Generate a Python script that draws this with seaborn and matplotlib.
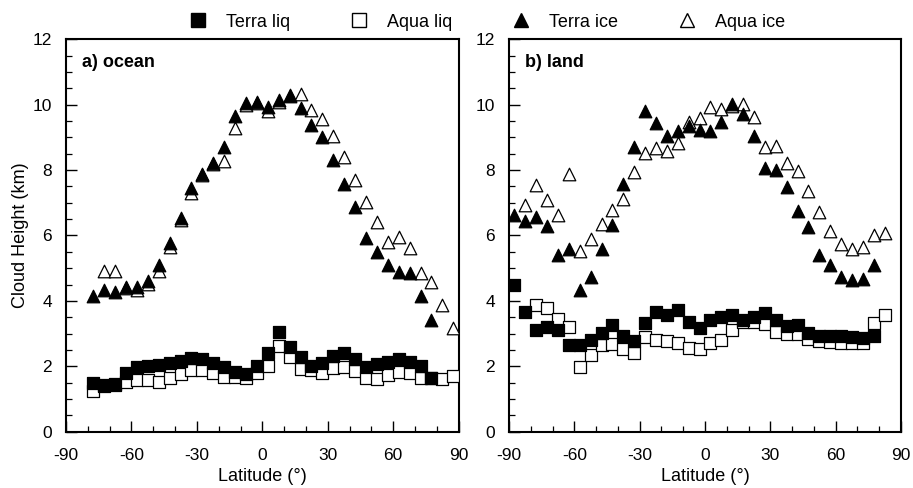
import numpy as np
import matplotlib
matplotlib.use("Agg")
import matplotlib.pyplot as plt
from matplotlib.lines import Line2D
from matplotlib.ticker import MultipleLocator
import seaborn as sns

nan = np.nan
lat = [-87.5, -82.5, -77.5, -72.5, -67.5, -62.5, -57.5, -52.5, -47.5, -42.5,
       -37.5, -32.5, -27.5, -22.5, -17.5, -12.5, -7.5, -2.5, 2.5, 7.5,
       12.5, 17.5, 22.5, 27.5, 32.5, 37.5, 42.5, 47.5, 52.5, 57.5,
       62.5, 67.5, 72.5, 77.5, 82.5, 87.5]

# ---- ocean ----
ocean_terra_ice = [nan, nan, 4.15, 4.34, 4.27, 4.43, 4.41, 4.62, 5.10, 5.76,
                   6.52, 7.44, 7.88, 8.21, 8.70, 9.65, 10.04, 10.09, 9.94, 10.13,
                   10.28, 9.91, 9.38, 9.02, 8.31, 7.58, 6.87, 5.91, 5.50, 5.10,
                   4.89, 4.84, 4.14, 3.41, nan, nan]
ocean_aqua_ice = [nan, nan, nan, 4.91, 4.91, 4.40, 4.34, 4.52, 4.92, 5.66,
                  6.48, 7.30, 7.85, 8.20, 8.27, 9.28, 10.00, 10.05, 9.81, 10.08,
                  10.30, 10.33, 9.85, 9.55, 9.03, 8.41, 7.71, 7.03, 6.42, 5.81,
                  5.96, 5.63, 4.84, 4.58, 3.87, 3.16]
ocean_terra_liq = [nan, nan, 1.49, 1.43, 1.47, 1.79, 1.99, 2.02, 2.04, 2.11,
                   2.16, 2.24, 2.21, 2.09, 1.97, 1.84, 1.76, 2.01, 2.42, 3.05,
                   2.60, 2.27, 2.01, 2.11, 2.31, 2.40, 2.21, 1.99, 2.06, 2.14,
                   2.21, 2.14, 2.01, 1.63, nan, nan]
ocean_aqua_liq = [nan, nan, 1.25, 1.40, 1.43, 1.53, 1.57, 1.59, 1.53, 1.65,
                  1.75, 1.89, 1.89, 1.79, 1.68, 1.68, 1.63, 1.79, 2.02, 2.62,
                  2.28, 1.92, 1.90, 1.80, 1.96, 1.99, 1.86, 1.63, 1.60, 1.73,
                  1.82, 1.79, 1.65, 1.63, 1.62, 1.69]

# ---- land ----
land_terra_ice = [6.62, 6.44, 6.58, 6.28, 5.41, 5.59, 4.33, 4.74, 5.59, 6.33,
                  7.57, 8.70, 9.82, 9.45, 9.04, 9.20, 9.35, 9.23, 9.19, 9.47,
                  10.02, 9.70, 9.04, 8.06, 8.00, 7.49, 6.76, 6.25, 5.40, 5.10,
                  4.72, 4.63, 4.66, 5.10, nan, nan]
land_aqua_ice = [nan, 6.93, 7.55, 7.08, 6.64, 7.88, 5.52, 5.89, 6.34, 6.79,
                 7.13, 7.95, 8.52, 8.68, 8.58, 8.83, 9.46, 9.60, 9.94, 9.88,
                 9.95, 10.01, 9.61, 8.72, 8.73, 8.23, 7.98, 7.36, 6.73, 6.13,
                 5.75, 5.59, 5.64, 6.02, 6.09, nan]
land_terra_liq = [4.49, 3.65, 3.12, 3.19, 3.11, 2.66, 2.66, 2.80, 3.03, 3.26,
                  2.93, 2.78, 3.31, 3.66, 3.57, 3.72, 3.36, 3.16, 3.43, 3.52,
                  3.57, 3.43, 3.50, 3.64, 3.42, 3.23, 3.26, 3.01, 2.93, 2.93,
                  2.93, 2.90, 2.86, 2.92, nan, nan]
land_aqua_liq = [nan, nan, 3.86, 3.79, 3.44, 3.21, 1.99, 2.34, 2.66, 2.68,
                 2.54, 2.41, 2.90, 2.81, 2.76, 2.71, 2.56, 2.54, 2.70, 2.80,
                 3.12, 3.35, 3.35, 3.30, 3.05, 3.00, 2.98, 2.82, 2.78, 2.74,
                 2.72, 2.70, 2.70, 3.33, 3.57, nan]

panel_titles = ["a) ocean", "b) land"]
legend_labels = ["Terra liq", "Aqua liq", "Terra ice", "Aqua ice"]
xticks = [-90, -60, -30, 0, 30, 60, 90]
yticks = [0, 2, 4, 6, 8, 10, 12]

sns.set_theme(style="ticks")
plt.rcParams["font.family"] = ["Liberation Sans", "DejaVu Sans"]
plt.rcParams["axes.unicode_minus"] = False
for key in ["text.color", "axes.labelcolor", "xtick.color", "ytick.color",
            "axes.edgecolor"]:
    plt.rcParams[key] = "black"

fig = plt.figure(figsize=(9.13, 4.88), dpi=100)
ax1 = fig.add_axes([0.0723, 0.1154, 0.4301, 0.8041])
ax2 = fig.add_axes([0.5575, 0.1154, 0.4294, 0.8041])

S = 82
LW = 0.9
panels = [
    (ax1, ocean_terra_liq, ocean_aqua_liq, ocean_terra_ice, ocean_aqua_ice),
    (ax2, land_terra_liq, land_aqua_liq, land_terra_ice, land_aqua_ice),
]
for i, (ax, tl, al, ti, ai) in enumerate(panels):
    sns.scatterplot(x=lat, y=ai, ax=ax, marker="^", s=S, facecolor="white",
                    edgecolor="black", linewidth=LW, zorder=3)
    sns.scatterplot(x=lat, y=ti, ax=ax, marker="^", s=S, color="black",
                    edgecolor="black", linewidth=LW, zorder=4)
    sns.scatterplot(x=lat, y=al, ax=ax, marker="s", s=S, facecolor="white",
                    edgecolor="black", linewidth=LW, zorder=3)
    sns.scatterplot(x=lat, y=tl, ax=ax, marker="s", s=S, color="black",
                    edgecolor="black", linewidth=LW, zorder=4)
    ax.set_xlim(-90, 90)
    ax.set_ylim(0, 12)
    ax.set_xticks(xticks)
    ax.set_yticks(yticks)
    ax.xaxis.set_minor_locator(MultipleLocator(10))
    ax.yaxis.set_minor_locator(MultipleLocator(0.5))
    ax.tick_params(which="major", direction="in", length=8, width=1.0,
                   labelsize=12.5, top=False, right=False, color="black",
                   labelcolor="black")
    ax.tick_params(axis="x", which="major", pad=12)
    ax.tick_params(axis="y", which="major", pad=10)
    ax.tick_params(which="minor", direction="in", length=4, width=0.9,
                   top=False, right=False, color="black")
    for sp in ax.spines.values():
        sp.set_linewidth(1.5)
        sp.set_color("black")
    ax.set_xlabel("Latitude (°)", fontsize=13, labelpad=3, color="black")
    ax.text(0.04, 0.942, panel_titles[i], transform=ax.transAxes,
            fontsize=13, fontweight="bold", va="center", ha="left",
            color="black")
    ax.grid(False)

ax1.set_ylabel("Cloud Height (km)", fontsize=13, labelpad=2.5, color="black")
ax2.set_ylabel("")

handles = [
    Line2D([], [], marker="s", linestyle="none", markersize=10.5,
           markerfacecolor="black", markeredgecolor="black"),
    Line2D([], [], marker="s", linestyle="none", markersize=10.5,
           markerfacecolor="white", markeredgecolor="black", markeredgewidth=1.0),
    Line2D([], [], marker="^", linestyle="none", markersize=10.5,
           markerfacecolor="black", markeredgecolor="black"),
    Line2D([], [], marker="^", linestyle="none", markersize=10.5,
           markerfacecolor="white", markeredgecolor="black", markeredgewidth=1.0),
]
fig.legend(handles, legend_labels, loc="upper center", ncol=4,
           bbox_to_anchor=(0.531, 1.005), frameon=False, fontsize=13,
           handlelength=1.5, handletextpad=0.8, columnspacing=3.05,
           labelcolor="black")

fig.savefig("out.png", dpi=100)
